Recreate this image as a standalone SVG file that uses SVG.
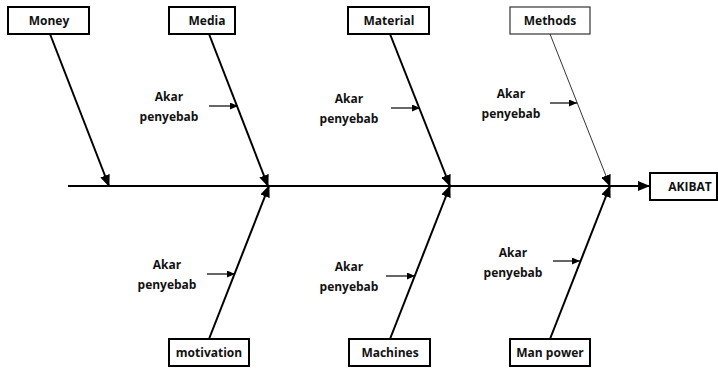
<svg xmlns="http://www.w3.org/2000/svg" width="718" height="368" viewBox="0 0 718 368">
<style>
.box{fill:#fff;stroke:#000;stroke-width:2}
.thinbox{fill:#fff;stroke:#333;stroke-width:1.2}
.lbl{font-family:"Open Sans","Liberation Sans",sans-serif;font-weight:700;font-size:12px;fill:#111;text-anchor:middle}
.bone{stroke:#000;stroke-width:2;fill:none;marker-end:url(#ah)}
.thin{stroke:#000;stroke-width:0.8;fill:none;marker-end:url(#ah)}
.sub{stroke:#000;stroke-width:1.2;fill:none;marker-end:url(#sa)}
</style>
<defs>
<marker id="ah" markerUnits="userSpaceOnUse" markerWidth="12" markerHeight="10" viewBox="0 0 12 10" refX="11" refY="5" orient="auto"><path d="M0,0 L12,5 L0,10 Z" fill="#000"/></marker>
<marker id="sa" markerUnits="userSpaceOnUse" markerWidth="8" markerHeight="7" viewBox="0 0 8 7" refX="8" refY="3.5" orient="auto"><path d="M0,0 L8,3.5 L0,7 Z" fill="#000"/></marker>
</defs>
<rect width="718" height="368" fill="#fff"/>
<g id="connectors">
<line class="bone" x1="68" y1="186" x2="649" y2="186"/>
<line class="bone" x1="50" y1="34" x2="109" y2="186"/>
<line class="bone" x1="209" y1="34" x2="268" y2="186"/>
<line class="bone" x1="390" y1="34" x2="450" y2="186"/>
<line class="thin" x1="550" y1="34" x2="610" y2="186"/>
<line class="bone" x1="209" y1="339" x2="269" y2="186"/>
<line class="bone" x1="390" y1="339" x2="450" y2="186"/>
<line class="bone" x1="550" y1="339" x2="610" y2="186"/>
<line class="sub" x1="209" y1="106" x2="238" y2="106"/>
<line class="sub" x1="391" y1="108" x2="420" y2="108"/>
<line class="sub" x1="550" y1="103" x2="577" y2="103"/>
<line class="sub" x1="207" y1="274" x2="235" y2="274"/>
<line class="sub" x1="386" y1="276" x2="415" y2="276"/>
<line class="sub" x1="553" y1="261" x2="580" y2="261"/>
</g>
<g id="money"><rect class="box" x="8" y="7" width="81" height="27"/><text class="lbl" x="49" y="25">Money</text></g>
<g id="media"><rect class="box" x="169" y="7" width="66" height="27"/><text class="lbl" x="207" y="25">Media</text></g>
<g id="material"><rect class="box" x="348" y="7" width="81" height="27"/><text class="lbl" x="389" y="25">Material</text></g>
<g id="methods"><rect class="thinbox" x="510" y="7" width="80" height="27"/><text class="lbl" x="550" y="25">Methods</text></g>
<g id="akibat"><rect class="box" x="650" y="173" width="67" height="27"/><text class="lbl" x="690" y="191">AKIBAT</text></g>
<g id="motivation"><rect class="box" x="169" y="339" width="80" height="27"/><text class="lbl" x="209" y="357">motivation</text></g>
<g id="machines"><rect class="box" x="349" y="339" width="81" height="27"/><text class="lbl" x="390" y="357">Machines</text></g>
<g id="manpower"><rect class="box" x="510" y="339" width="80" height="27"/><text class="lbl" x="550" y="357">Man power</text></g>
<g id="cause-media"><text class="lbl" x="169" y="101">Akar</text><text class="lbl" x="169" y="121">penyebab</text></g>
<g id="cause-material"><text class="lbl" x="349" y="103">Akar</text><text class="lbl" x="349" y="123">penyebab</text></g>
<g id="cause-methods"><text class="lbl" x="511" y="98">Akar</text><text class="lbl" x="511" y="118">penyebab</text></g>
<g id="cause-motivation"><text class="lbl" x="167" y="269">Akar</text><text class="lbl" x="167" y="289">penyebab</text></g>
<g id="cause-machines"><text class="lbl" x="349" y="271">Akar</text><text class="lbl" x="349" y="291">penyebab</text></g>
<g id="cause-manpower"><text class="lbl" x="513" y="257">Akar</text><text class="lbl" x="513" y="277">penyebab</text></g>
</svg>
